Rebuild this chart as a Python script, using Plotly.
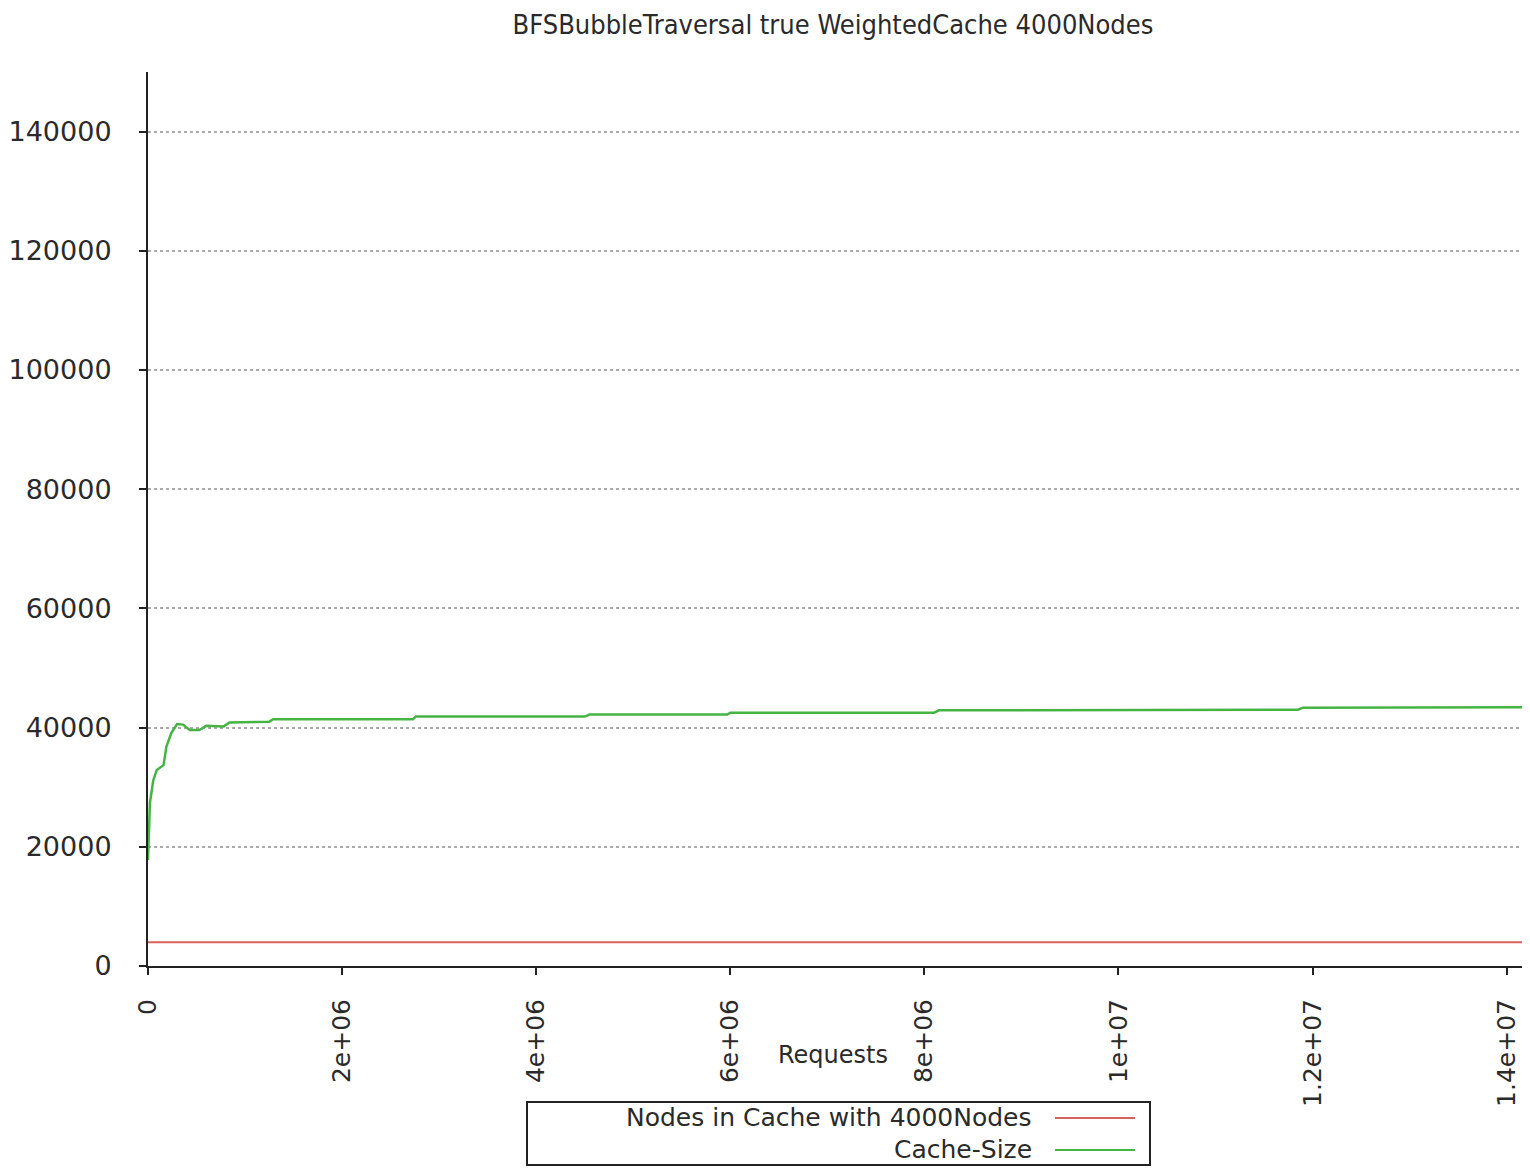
import plotly.graph_objects as go

title_text = "BFSBubbleTraversal true WeightedCache 4000Nodes"
series_names = ["Nodes in Cache with 4000Nodes", "Cache-Size"]
series_colors = ["#d9605c", "#45b445"]

nodes_x = [0, 1.422e7]
nodes_y = [4000, 4000]

cache_x = [0, 0.02e6, 0.055e6, 0.09e6, 0.16e6, 0.19e6, 0.24e6, 0.3e6, 0.36e6, 0.43e6,
           0.53e6, 0.6e6, 0.78e6, 0.84e6, 1.25e6, 1.29e6, 2.73e6, 2.76e6, 4.5e6, 4.55e6,
           5.97e6, 6.0e6, 8.1e6, 8.15e6, 1.185e7, 1.19e7, 1.415e7, 1.422e7]
cache_y = [17800, 27400, 31200, 32900, 33700, 36800, 39100, 40600, 40500, 39600,
           39600, 40300, 40200, 40850, 41000, 41400, 41400, 41850, 41850, 42200,
           42200, 42500, 42500, 42900, 43000, 43350, 43400, 43800]

x_tickvals = [0, 2e6, 4e6, 6e6, 8e6, 1e7, 1.2e7, 1.4e7]
x_ticktext = ["0", "2e+06", "4e+06", "6e+06", "8e+06", "1e+07", "1.2e+07", "1.4e+07"]
y_tickvals = [0, 20000, 40000, 60000, 80000, 100000, 120000, 140000]
y_ticktext = ["0", "20000", "40000", "60000", "80000", "100000", "120000", "140000"]

FONT = "DejaVu Sans"
TFONT = "DejaVu Sans Condensed, DejaVu Sans"
TXT = "#2a2a2a"

# figure pixel geometry (page has an 8px body margin)
W, H = 1522, 1160
L, R, T, B = 140, 2, 64, 202
PW, PH = W - L - R, H - T - B


def px(fx):
    return (fx - L) / PW


def py(fy):
    return (H - B - fy) / PH


fig = go.Figure()
fig.add_trace(go.Scatter(x=nodes_x, y=nodes_y, mode="lines", name=series_names[0],
                         line=dict(color=series_colors[0], width=2)))
fig.add_trace(go.Scatter(x=cache_x, y=cache_y, mode="lines", name=series_names[1],
                         line=dict(color=series_colors[1], width=2.5)))

# legend (text right-aligned, sample line on the right, as in the reference)
shapes = [dict(type="rect", xref="paper", yref="paper",
               x0=px(519), x1=px(1142), y0=py(1094), y1=py(1157),
               line=dict(color="#222", width=2), fillcolor="white", layer="above")]
annotations = [dict(text="Requests", xref="paper", yref="paper", x=px(825),
                    y=py(1047), xanchor="center", yanchor="middle",
                    showarrow=False, font=dict(family=FONT, size=24, color=TXT))]
legend_rows = [1109, 1141]
for name, color, ry in zip(series_names, series_colors, legend_rows):
    annotations.append(dict(text=name, xref="paper", yref="paper", x=px(1026), y=py(ry),
                            xanchor="right", yanchor="middle", showarrow=False,
                            font=dict(family=FONT, size=25, color=TXT)))
    shapes.append(dict(type="line", xref="paper", yref="paper", x0=px(1047), x1=px(1127),
                       y0=py(ry + 1), y1=py(ry + 1), line=dict(color=color, width=2)))

fig.update_layout(
    width=W, height=H,
    margin=dict(l=L, r=R, t=T, b=B, autoexpand=False),
    paper_bgcolor="white", plot_bgcolor="white",
    font=dict(family=FONT, size=24, color=TXT),
    title=dict(text=title_text, x=825 / W, xanchor="center", y=1 - 17 / H,
               yanchor="middle", font=dict(family=TFONT, size=27, color=TXT)),
    showlegend=False,
    shapes=shapes,
    annotations=annotations,
)
fig.update_xaxes(range=[0, 1.422e7], tickvals=x_tickvals, ticktext=x_ticktext,
                 tickangle=-90, showgrid=False, zeroline=False, automargin=False,
                 showline=True, linecolor="#222", linewidth=2,
                 ticks="outside", ticklen=7, tickwidth=2, tickcolor="#222",
                 ticklabelstandoff=14,
                 tickfont=dict(family=FONT, size=25, color=TXT))
fig.update_yaxes(range=[0, 150000], tickvals=y_tickvals, ticktext=y_ticktext,
                 showgrid=True, gridcolor="#aaaaaa", griddash="dot", gridwidth=1.5,
                 zeroline=False, showline=True, linecolor="#222", linewidth=2,
                 automargin=False,
                 ticks="outside", ticklen=7, tickwidth=2, tickcolor="#222",
                 ticklabelstandoff=22,
                 tickfont=dict(family=FONT, size=27, color=TXT))

fig.write_html("out.html")
